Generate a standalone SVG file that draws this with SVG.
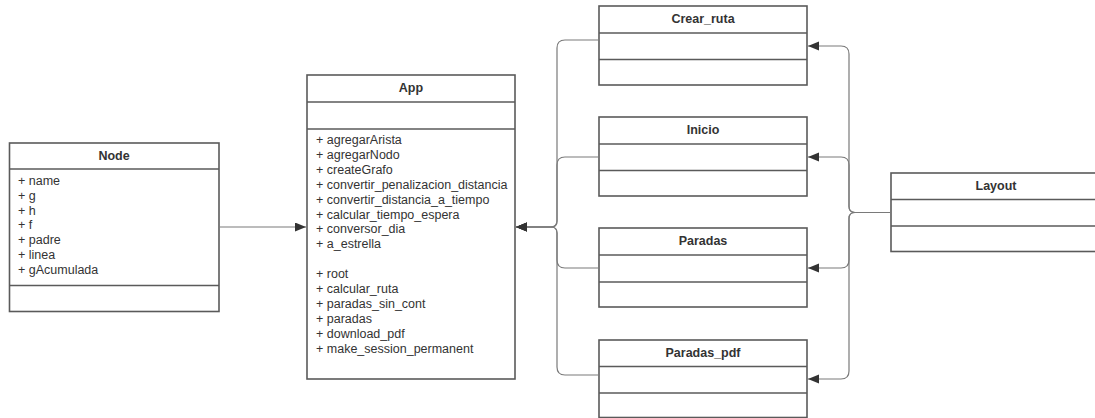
<svg xmlns="http://www.w3.org/2000/svg" width="1095" height="418" viewBox="0 0 1095 418">
  <style>
    .box { fill: #ffffff; stroke: #5a5a5a; stroke-width: 1.6; }
    .sep { stroke: #5a5a5a; stroke-width: 1.6; }
    .title { font-family: "Liberation Sans", Arial, sans-serif; font-size: 12.5px; font-weight: bold; fill: #333333; text-anchor: middle; }
    .member { font-family: "Liberation Sans", Arial, sans-serif; font-size: 12.5px; fill: #333333; }
    .conn { fill: none; stroke: #7a7a7a; stroke-width: 1.2; }
  </style>
  <defs>
    <marker id="arrow" markerUnits="userSpaceOnUse" markerWidth="12" markerHeight="10" refX="11" refY="4.5" orient="auto">
      <path d="M0,0 L11,4.5 L0,9 Z" fill="#333333"/>
    </marker>
  </defs>

  <rect width="1095" height="418" fill="#ffffff"/>

  <!-- Node class -->
  <g id="node-Node">
    <rect class="box" x="9.5" y="143" width="209.5" height="168.5"/>
    <line class="sep" x1="9.5" y1="169" x2="219" y2="169"/>
    <line class="sep" x1="9.5" y1="285.5" x2="219" y2="285.5"/>
    <text class="title" x="114" y="160">Node</text>
    <text class="member" x="18" y="185">+ name</text>
    <text class="member" x="18" y="199.8">+ g</text>
    <text class="member" x="18" y="214.6">+ h</text>
    <text class="member" x="18" y="229.4">+ f</text>
    <text class="member" x="18" y="244.2">+ padre</text>
    <text class="member" x="18" y="259">+ linea</text>
    <text class="member" x="18" y="273.8">+ gAcumulada</text>
  </g>

  <!-- App class -->
  <g id="node-App">
    <rect class="box" x="307" y="75" width="208" height="304"/>
    <line class="sep" x1="307" y1="102" x2="515" y2="102"/>
    <line class="sep" x1="307" y1="129" x2="515" y2="129"/>
    <text class="title" x="411" y="92">App</text>
    <text class="member" x="316" y="144">+ agregarArista</text>
    <text class="member" x="316" y="158.9">+ agregarNodo</text>
    <text class="member" x="316" y="173.8">+ createGrafo</text>
    <text class="member" x="316" y="188.7">+ convertir_penalizacion_distancia</text>
    <text class="member" x="316" y="203.6">+ convertir_distancia_a_tiempo</text>
    <text class="member" x="316" y="218.5">+ calcular_tiempo_espera</text>
    <text class="member" x="316" y="233.4">+ conversor_dia</text>
    <text class="member" x="316" y="248.3">+ a_estrella</text>
    <text class="member" x="316" y="278.1">+ root</text>
    <text class="member" x="316" y="293">+ calcular_ruta</text>
    <text class="member" x="316" y="307.9">+ paradas_sin_cont</text>
    <text class="member" x="316" y="322.8">+ paradas</text>
    <text class="member" x="316" y="337.7">+ download_pdf</text>
    <text class="member" x="316" y="352.6">+ make_session_permanent</text>
  </g>

  <!-- View classes -->
  <g id="node-Crear_ruta">
    <rect class="box" x="599" y="6" width="208" height="79"/>
    <line class="sep" x1="599" y1="33" x2="807" y2="33"/>
    <line class="sep" x1="599" y1="59.5" x2="807" y2="59.5"/>
    <text class="title" x="703" y="23">Crear_ruta</text>
  </g>

  <g id="node-Inicio">
    <rect class="box" x="599" y="117" width="208" height="79"/>
    <line class="sep" x1="599" y1="144" x2="807" y2="144"/>
    <line class="sep" x1="599" y1="170.5" x2="807" y2="170.5"/>
    <text class="title" x="703" y="134">Inicio</text>
  </g>

  <g id="node-Paradas">
    <rect class="box" x="599" y="228" width="208" height="79"/>
    <line class="sep" x1="599" y1="255" x2="807" y2="255"/>
    <line class="sep" x1="599" y1="282" x2="807" y2="282"/>
    <text class="title" x="703" y="245">Paradas</text>
  </g>

  <g id="node-Paradas_pdf">
    <rect class="box" x="599" y="340" width="208" height="77.5"/>
    <line class="sep" x1="599" y1="366.5" x2="807" y2="366.5"/>
    <line class="sep" x1="599" y1="393" x2="807" y2="393"/>
    <text class="title" x="703" y="357">Paradas_pdf</text>
  </g>

  <!-- Layout class (runs past the right edge) -->
  <g id="node-Layout">
    <rect class="box" x="891" y="173" width="210" height="78.5"/>
    <line class="sep" x1="891" y1="199.5" x2="1101" y2="199.5"/>
    <line class="sep" x1="891" y1="226" x2="1101" y2="226"/>
    <text class="title" x="996" y="190">Layout</text>
  </g>

  <!-- Connectors -->
  <g id="connectors">
    <path class="conn" marker-end="url(#arrow)" d="M219,227 H306"/>

    <path class="conn" marker-end="url(#arrow)" d="M599,40 H565 Q557,40 557,48 V221 Q557,227 551,227 H516"/>
    <path class="conn" marker-end="url(#arrow)" d="M599,157 H565 Q557,157 557,165 V221 Q557,227 551,227 H516"/>
    <path class="conn" marker-end="url(#arrow)" d="M599,268 H565 Q557,268 557,260 V233 Q557,227 551,227 H516"/>
    <path class="conn" marker-end="url(#arrow)" d="M599,375 H565 Q557,375 557,367 V233 Q557,227 551,227 H516"/>

    <path class="conn" marker-end="url(#arrow)" d="M891,212.5 H855 Q849,212.5 849,206.5 V54 Q849,46 841,46 H808"/>
    <path class="conn" marker-end="url(#arrow)" d="M891,212.5 H855 Q849,212.5 849,206.5 V165 Q849,157 841,157 H808"/>
    <path class="conn" marker-end="url(#arrow)" d="M891,212.5 H855 Q849,212.5 849,218.5 V260 Q849,268 841,268 H808"/>
    <path class="conn" marker-end="url(#arrow)" d="M891,212.5 H855 Q849,212.5 849,218.5 V371 Q849,379 841,379 H808"/>
  </g>
</svg>
